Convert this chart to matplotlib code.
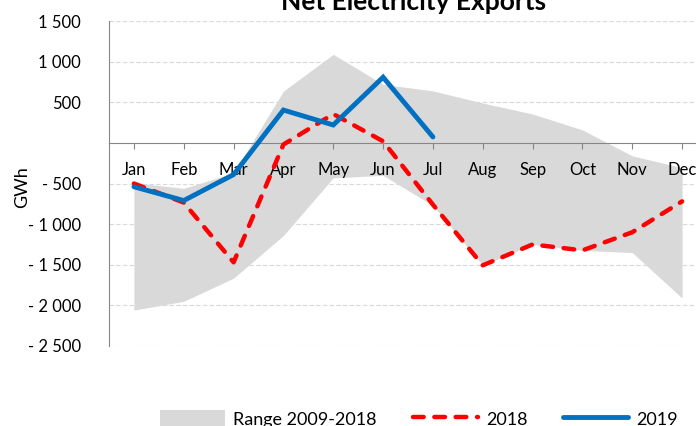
import matplotlib
matplotlib.use("Agg")
import matplotlib.pyplot as plt
from matplotlib.ticker import FuncFormatter, FixedLocator
from matplotlib.patches import Patch
from matplotlib.lines import Line2D

plt.rcParams['font.family'] = ['Lato', 'DejaVu Sans']

#  Daten (GWh)
monate = ["Jan", "Feb", "Mar", "Apr", "May", "Jun", "Jul", "Aug", "Sep", "Oct", "Nov", "Dec"]
range_max = [-490, -560, -370, 637, 1090, 720, 640, 490, 355, 160, -160, -305]
range_min = [-2058, -1950, -1665, -1140, -430, -400, -770, -1507, -1250, -1323, -1350, -1910]
werte_2018 = [-500, -735, -1470, -20, 355, 20, -760, -1507, -1250, -1323, -1100, -720]
werte_2019 = [-540, -710, -390, 404, 220, 808, 73]
y_ticks = list(range(-2500, 1501, 500))

grau = "#D9D9D9"
rot = "#FF0000"
blau = "#0070C0"

def fmt_y(v, pos):
    if v == 0:
        return ""
    s = f"{abs(int(v)):,}".replace(",", " ")
    return "- " + s if v < 0 else s

fig = plt.figure(figsize=(6.96, 4.26), dpi=100)
ax = fig.add_axes([109 / 696, 1 - 346 / 426, 598 / 696, 325 / 426])

# Gitterlinien unter der Fläche
for yv in y_ticks:
    if yv != 0:
        ax.axhline(yv, color="#D9D9D9", linestyle=(0, (4, 2)), lw=0.8, zorder=0)

x = list(range(len(monate)))
ax.fill_between(x, range_min, range_max, color=grau, lw=0, zorder=1)
ax.plot(x, werte_2018, color=rot, lw=3.2, linestyle=(0, (2.4, 2.4)),
        dash_capstyle="round", zorder=4)
ax.plot(list(range(len(werte_2019))), werte_2019, color=blau, lw=3.5,
        solid_capstyle="round", solid_joinstyle="miter", zorder=5)

ax.set_xlim(-0.5, 11.5)
ax.set_ylim(-2500, 1500)
ax.yaxis.set_major_locator(FixedLocator(y_ticks))
ax.yaxis.set_major_formatter(FuncFormatter(fmt_y))

ax.set_xticks(x)
ax.set_xticklabels(monate)
ax.spines["bottom"].set_position(("data", 0))
for s in ["top", "right"]:
    ax.spines[s].set_visible(False)
ax.spines["bottom"].set_color("#868686")
ax.spines["left"].set_color("#868686")
ax.spines["bottom"].set_zorder(2)
ax.spines["left"].set_zorder(2)
ax.xaxis.set_zorder(3)
ax.tick_params(axis="x", length=4, color="#868686", pad=10, labelsize=12)
ax.tick_params(axis="y", length=0, pad=20, labelsize=12)
ax.set_ylabel("GWh", fontsize=13)
ax.yaxis.set_label_coords(-0.132, 0.49)

fig.text(414 / 696, 1 - 10 / 426, "Net Electricity Exports", ha="center", va="baseline",
         fontsize=19, fontweight="bold")

handles = [
    Patch(facecolor=grau, edgecolor="none"),
    Line2D([], [], color=rot, lw=3.2, linestyle=(0, (2.4, 2.4)), dash_capstyle="round"),
    Line2D([], [], color=blau, lw=3.5, solid_capstyle="round"),
]
fig.legend(handles, ["Range 2009-2018", "2018", "2019"], loc="center left",
           bbox_to_anchor=(160 / 696, 1 - 419 / 426), ncol=3, frameon=False,
           fontsize=13, handlelength=3.6, handleheight=1.2, columnspacing=2.0,
           handletextpad=0.45, borderpad=0, borderaxespad=0)

fig.savefig("out.png", dpi=100)
